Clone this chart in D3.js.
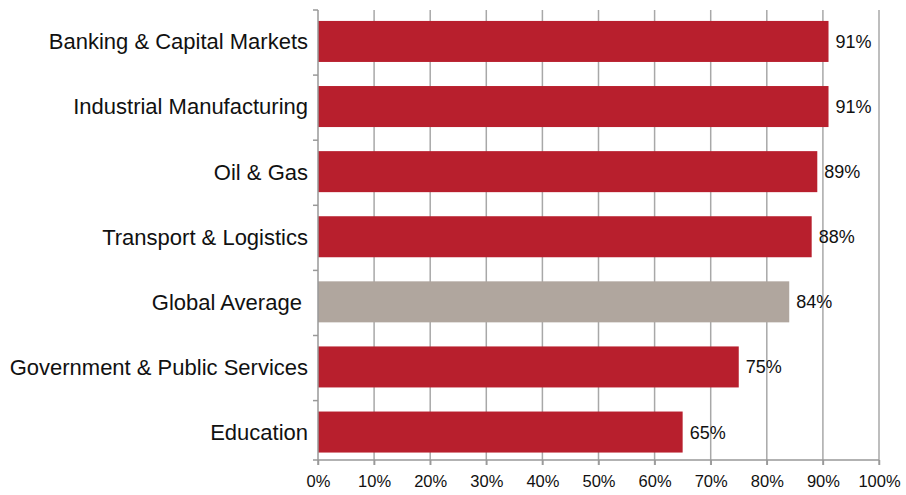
<!DOCTYPE html>
<html><head><meta charset="utf-8">
<script src="https://cdn.jsdelivr.net/npm/d3@7"></script>
<style>body{margin:0;background:#fff}svg{display:block}text{font-family:"Liberation Sans",Arial,Helvetica,sans-serif;fill:#111}</style>
</head><body>
<svg id="c" width="906" height="495"></svg>
<script>
const categories = ["Banking & Capital Markets","Industrial Manufacturing","Oil & Gas","Transport & Logistics","Global Average ","Government & Public Services","Education"];
const values = [91,91,89,88,84,75,65];
const highlight = [false,false,false,false,true,false,false];
const xTicks = [0,10,20,30,40,50,60,70,80,90,100];

const svg = d3.select("#c");
const m = {l:318, r:879, t:10, b:460};
const x = d3.scaleLinear().domain([0,100]).range([m.l,m.r]);
const yb = d3.scaleBand().domain(categories).range([m.t,m.t+7*65.1]);
const barOff = yb.bandwidth()*0.168, barH = yb.bandwidth()*0.63;

// gridlines
svg.append("g").selectAll("line").data(xTicks.slice(1)).join("line")
  .attr("x1",d=>x(d)).attr("x2",d=>x(d)).attr("y1",m.t).attr("y2",m.b+5)
  .attr("stroke","#a8a8a8").attr("stroke-width",1.5);

// bars
svg.append("g").selectAll("rect").data(values).join("rect")
  .attr("x",x(0)).attr("y",(d,i)=>yb(categories[i])+barOff)
  .attr("width",d=>x(d)-x(0)).attr("height",barH)
  .attr("fill",(d,i)=>highlight[i]?"#b0a69e":"#b81f2d");

// value labels
svg.append("g").selectAll("text").data(values).join("text")
  .attr("x",d=>x(d)+7).attr("y",(d,i)=>yb(categories[i])+barOff+barH/2)
  .attr("dy","0.36em").attr("font-size",18).text(d=>d+"%");

// left axis
const ga = svg.append("g");
ga.append("line").attr("x1",m.l).attr("x2",m.l).attr("y1",m.t).attr("y2",m.b+5).attr("stroke","#999").attr("stroke-width",1.5);
const edges = categories.map(c=>yb(c));
ga.selectAll("line.t").data(edges).join("line").attr("class","t")
  .attr("x1",m.l-5).attr("x2",m.l).attr("y1",d=>d).attr("y2",d=>d).attr("stroke","#999").attr("stroke-width",1.5);
ga.selectAll("text").data(categories).join("text")
  .attr("x",m.l-10).attr("y",d=>yb(d)+barOff+barH/2).attr("dy","0.36em")
  .attr("text-anchor","end").attr("font-size",22).style("white-space","pre").text(d=>d);

// bottom axis
const gx = svg.append("g").attr("transform",`translate(0,${m.b})`)
  .call(d3.axisBottom(x).tickValues(xTicks).tickFormat(d=>d+"%").tickSize(5).tickPadding(10));
gx.select(".domain").attr("d",`M${m.l-5},0H${m.r}`).attr("stroke","#999").attr("stroke-width",1.5);
gx.selectAll(".tick line").attr("stroke","#999").attr("stroke-width",1.5);
gx.selectAll(".tick text").attr("font-size",16.5).attr("font-family","Liberation Sans,Arial,sans-serif").attr("fill","#111");
</script>
</body></html>
